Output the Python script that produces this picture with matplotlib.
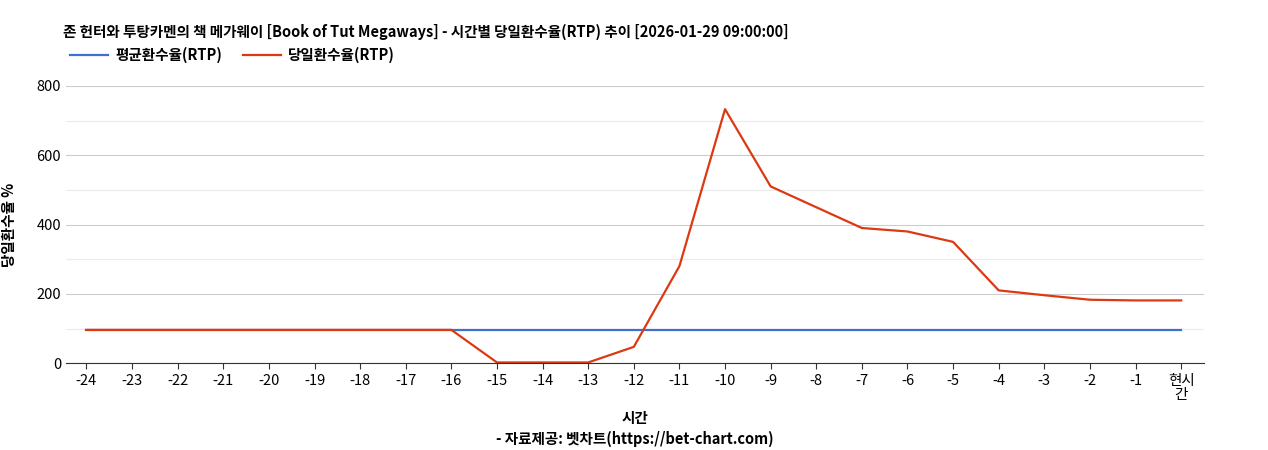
import matplotlib
matplotlib.use("Agg")
import matplotlib.pyplot as plt

plt.rcParams['font.family'] = ['Noto Sans CJK KR', 'DejaVu Sans']

labels = [str(i) for i in range(-24, 0)] + ['현시\n간']
avg_rtp = [96] * 25
day_rtp = [96, 96, 96, 96, 96, 96, 96, 96, 96, 2, 2, 2, 47, 280, 733, 510, 450, 390, 380, 350, 210, 196, 183, 181, 181]

fig = plt.figure(figsize=(12.68, 4.5), dpi=100)
ax = fig.add_axes([0.052, 0.193, 0.8975, 0.616])
x = list(range(len(labels)))
ax.plot(x, avg_rtp, color='#3f6fd1', lw=1.6, label='평균환수율(RTP)')
ax.plot(x, day_rtp, color='#dc3912', lw=1.6, label='당일환수율(RTP)')
ax.set_xlim(-0.45, len(labels) - 0.5)
ax.set_ylim(0, 800)
ax.set_yticks([0, 200, 400, 600, 800])
ax.set_yticks([100, 300, 500, 700], minor=True)
ax.grid(axis='y', which='major', color='#cccccc', lw=0.8)
ax.grid(axis='y', which='minor', color='#ebebeb', lw=0.8)
ax.tick_params(axis='y', which='both', length=0, labelsize=10.5)
ax.tick_params(axis='x', length=4, labelsize=10.5, color='#333333')
ax.set_xticks(x)
ax.set_xticklabels(labels, linespacing=1.0)
for s in ['top', 'right', 'left']:
    ax.spines[s].set_visible(False)
ax.spines['bottom'].set_color('#333333')
ax.set_axisbelow(True)
ax.set_ylabel('당일환수율 %', fontsize=10.5, fontweight='bold', labelpad=14)
ax.set_xlabel('시간\n- 자료제공: 벳차트(https://bet-chart.com)', fontsize=10.5, fontweight='bold', labelpad=6, linespacing=1.4)
fig.text(0.05, 0.93, '존 헌터와 투탕카멘의 책 메가웨이 [Book of Tut Megaways] - 시간별 당일환수율(RTP) 추이 [2026-01-29 09:00:00]',
         fontsize=10.5, fontweight='bold', va='center')
fig.legend(loc='center left', bbox_to_anchor=(0.045, 0.877), ncol=2, frameon=False,
           prop={'size': 10.5, 'weight': 'bold'}, handlelength=2.6, columnspacing=1.4, handletextpad=0.5)
fig.savefig('out.png', dpi=100)
